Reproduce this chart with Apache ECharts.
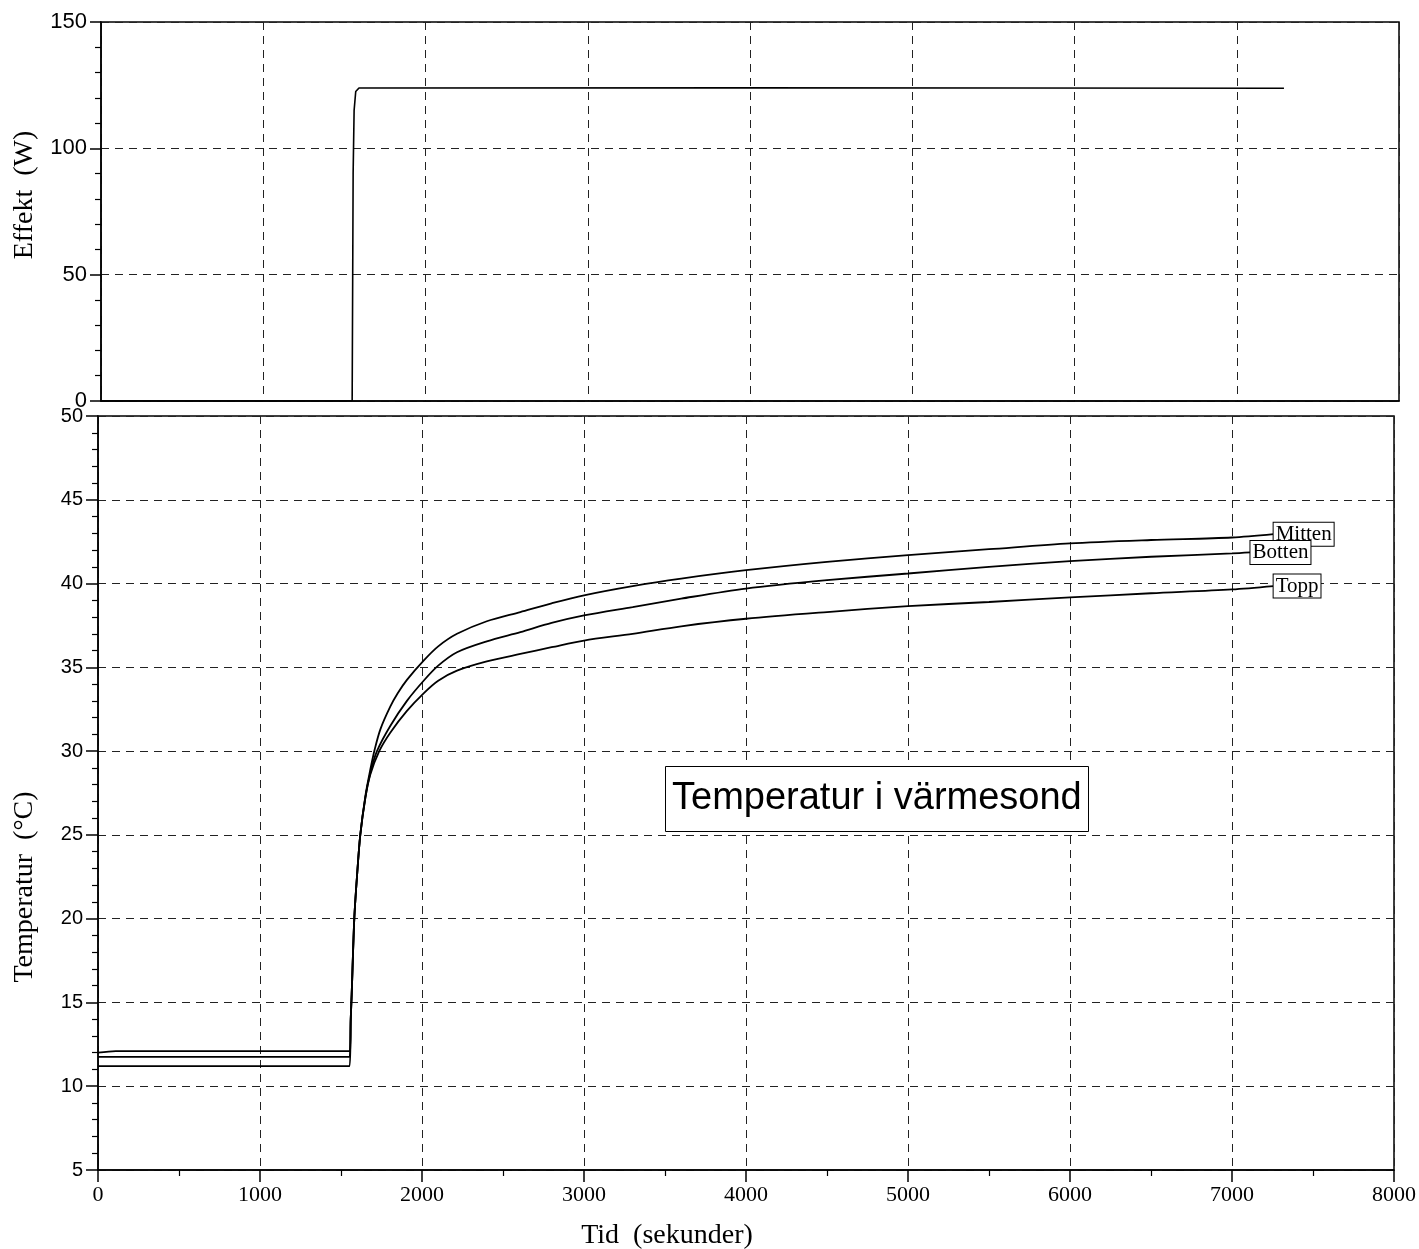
<!DOCTYPE html>
<html>
<head>
<meta charset="utf-8">
<script src="https://cdn.jsdelivr.net/npm/echarts@6/dist/echarts.min.js"></script>
<style>
html,body{margin:0;padding:0;background:#fff;}
#chart{width:1419px;height:1249px;}
</style>
</head>
<body>
<div id="chart"></div>
<script>
// ---- data (time in seconds) ----
const powerData = [[0,0],[1548,0],[1554,90],[1560,115],[1570,122.5],[1590,123.9],[4000,124],[7291,123.8]];

const mittenData = [[0,11.75],[1553,11.75],[1560,14],[1566,15.5],[1582,20],[1600,22.7],[1619,25],[1650,27.3],[1681,28.9],[1708,30.1],[1743,31.3],[1804,32.65],[1850,33.45],[1907,34.25],[2010,35.4],[2100,36.25],[2216,37.0],[2400,37.75],[2607,38.3],[2800,38.82],[3000,39.3],[3300,39.85],[3600,40.3],[4000,40.8],[4500,41.3],[5000,41.7],[5500,42.05],[6000,42.4],[6500,42.6],[7000,42.75],[7257,42.95]];

const bottenData = [[0,12.0],[110,12.1],[1553,12.1],[1560,14],[1566,15.5],[1582,20],[1600,22.7],[1619,25],[1650,27.2],[1681,28.7],[1722,30.0],[1804,31.5],[1907,33.0],[2010,34.2],[2100,35.1],[2216,35.9],[2400,36.55],[2607,37.1],[2800,37.65],[3000,38.1],[3300,38.6],[3600,39.1],[4000,39.7],[4500,40.2],[5000,40.6],[5500,41.0],[6000,41.34],[6500,41.6],[7000,41.8],[7114,41.86]];

const toppData = [[0,11.2],[1553,11.2],[1560,14],[1566,15.5],[1582,20],[1600,22.7],[1619,25],[1650,27.2],[1681,28.6],[1736,30.0],[1804,31.1],[1907,32.4],[2010,33.45],[2100,34.2],[2216,34.8],[2400,35.35],[2607,35.8],[2800,36.2],[3000,36.6],[3300,37.0],[3600,37.45],[4000,37.9],[4500,38.3],[5000,38.65],[5500,38.9],[6000,39.17],[6500,39.42],[7000,39.65],[7257,39.85]];

const seriesNames = ['Mitten','Botten','Topp'];
const xRange = [0, 8000, 1000];
const powerRange = [0, 150, 50];
const tempRange = [5, 50, 5];
const titleText = 'Temperatur i värmesond';
const powerAxisName = 'Effekt  (W)';
const tempAxisName = 'Temperatur  (°C)';
const timeAxisName = 'Tid  (sekunder)';

// ---- chart ----
const chart = echarts.init(document.getElementById('chart'), null, {renderer:'canvas'});
const dash = {color:'#222', width:1, type:[8,6]};
const axisLineStyle = {show:true, onZero:false, lineStyle:{color:'#000', width:1.5}};
const serif = 'Liberation Serif';
const sans = 'Liberation Sans';
const plain = v => String(v);

function endLabel() {
  return {
    show:true, formatter:'{a}', distance:0,
    fontFamily:serif, fontSize:21, color:'#000',
    backgroundColor:'#fff', borderColor:'#000', borderWidth:1,
    padding:[2,2,0,2]
  };
}

function tempSeries(name, data) {
  return {type:'line', name:name, xAxisIndex:1, yAxisIndex:1, data:data, showSymbol:false,
    smooth:0.3,
    lineStyle:{color:'#000', width:1.8}, endLabel:endLabel()};
}

const option = {
  animation:false,
  backgroundColor:'#fff',
  title:{
    text:titleText, left:665, top:766,
    borderColor:'#000', borderWidth:1, padding:[10,7],
    backgroundColor:'#fff',
    textStyle:{fontFamily:sans, fontSize:38, fontWeight:'normal', color:'#000', lineHeight:46}
  },
  grid:[
    {left:101, top:22, width:1298, height:379, show:true, borderColor:'#000', borderWidth:1.5, containLabel:false},
    {left:98, top:416, width:1296, height:754, show:true, borderColor:'#000', borderWidth:1.5, containLabel:false}
  ],
  xAxis:[
    {type:'value', gridIndex:0, min:xRange[0], max:xRange[1], interval:xRange[2],
     axisLine:axisLineStyle, axisTick:{show:false}, axisLabel:{show:false},
     splitLine:{show:true, lineStyle:dash}},
    {type:'value', gridIndex:1, min:xRange[0], max:xRange[1], interval:xRange[2],
     axisLine:axisLineStyle,
     axisTick:{show:true, length:12, lineStyle:{color:'#000', width:1.5}},
     minorTick:{show:true, splitNumber:2, length:6, lineStyle:{color:'#000', width:1.2}},
     axisLabel:{show:true, margin:14, fontFamily:serif, fontSize:22, color:'#000', formatter:plain, showMinLabel:true, showMaxLabel:true},
     splitLine:{show:true, lineStyle:dash}}
  ],
  yAxis:[
    {type:'value', gridIndex:0, min:powerRange[0], max:powerRange[1], interval:powerRange[2],
     axisLine:axisLineStyle,
     axisTick:{show:true, length:11, lineStyle:{color:'#000', width:1.5}},
     minorTick:{show:true, splitNumber:5, length:6, lineStyle:{color:'#000', width:1.2}},
     axisLabel:{show:true, margin:14, fontFamily:sans, fontSize:22, color:'#000', formatter:plain, showMinLabel:true, showMaxLabel:true},
     splitLine:{show:true, lineStyle:dash}},
    {type:'value', gridIndex:1, min:tempRange[0], max:tempRange[1], interval:tempRange[2],
     axisLine:axisLineStyle,
     axisTick:{show:true, length:12, lineStyle:{color:'#000', width:1.5}},
     minorTick:{show:true, splitNumber:5, length:6, lineStyle:{color:'#000', width:1.2}},
     axisLabel:{show:true, margin:15, fontFamily:sans, fontSize:20, color:'#000', formatter:plain, showMinLabel:true, showMaxLabel:true},
     splitLine:{show:true, lineStyle:dash}}
  ],
  graphic:[
    {type:'text', x:25, y:195, rotation:Math.PI/2,
     style:{text:powerAxisName, fontFamily:serif, fontSize:28, fill:'#000', textAlign:'center', textVerticalAlign:'middle'}},
    {type:'text', x:25, y:887, rotation:Math.PI/2,
     style:{text:tempAxisName, fontFamily:serif, fontSize:28, fill:'#000', textAlign:'center', textVerticalAlign:'middle'}},
    {type:'text', x:667, y:1236,
     style:{text:timeAxisName, fontFamily:serif, fontSize:28, fill:'#000', textAlign:'center', textVerticalAlign:'middle'}}
  ],
  series:[
    {type:'line', name:'Effekt', xAxisIndex:0, yAxisIndex:0, data:powerData, showSymbol:false,
     lineStyle:{color:'#000', width:1.6}},
    tempSeries(seriesNames[0], mittenData),
    tempSeries(seriesNames[1], bottenData),
    tempSeries(seriesNames[2], toppData)
  ]
};
chart.setOption(option);
</script>
</body>
</html>
